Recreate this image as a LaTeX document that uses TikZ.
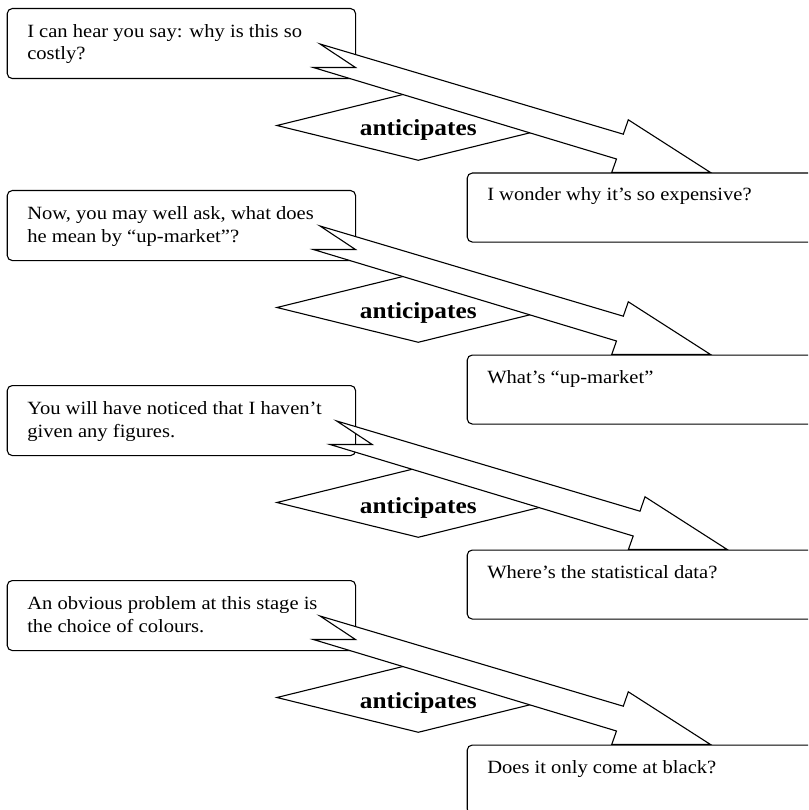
\documentclass[tikz,border=0pt]{standalone}
\usepackage{fontspec}
\setmainfont{Liberation Serif}[FakeStretch=1.1]
\usetikzlibrary{shapes.geometric}
\tikzset{
  lbox/.style={draw, fill=white, rounded corners=5pt, minimum width=348.3pt, minimum height=70pt, inner sep=0pt, anchor=north west},
  rbox/.style={draw, fill=white, rounded corners=5pt, minimum width=420pt, minimum height=69pt, inner sep=0pt, anchor=north west},
  dia/.style={draw, fill=white, diamond, aspect=4, minimum width=283.2pt, minimum height=70pt, inner sep=0pt},
  txt/.style={inner sep=0pt, font=\fontsize{18.7pt}{22pt}\selectfont, anchor=base west},
  btxt/.style={inner sep=0pt, font=\fontsize{23pt}{26pt}\selectfont\bfseries, anchor=base},
  barrow/.style={draw, fill=white, line join=miter}
}
\newcommand{\grp}[6]{%
\begin{scope}[yshift=-#1pt]
  \node[lbox] (L#3) at (6.7,8) {};
  \node[txt] (La#3) at (26.7,37.7) {#4};
  \node[txt] (Lb#3) at (26.7,60) {#5};
  \node[dia] (D#3) at (418.3,125.5) {};
  \node[btxt] (Dt#3) at (418.3,136) {anticipates};
  \begin{scope}[xshift=#2pt]
    \coordinate (A#3) at (320,44);
    \coordinate (B#3) at (355.5,67.5);
    \coordinate (C#3) at (313.3,67.5);
    \coordinate (E#3) at (616.5,159);
    \coordinate (F#3) at (611.7,172.5);
    \coordinate (T#3) at (710.5,172.5);
    \coordinate (G#3) at (628.3,119.8);
    \coordinate (H#3) at (623.3,134.2);
    \path[barrow] (A#3) -- (B#3) -- (C#3) -- (E#3) -- (F#3) -- (T#3) -- (G#3) -- (H#3) -- cycle;
  \end{scope}
  \node[rbox] (R#3) at (466.7,172.5) {};
  \node[txt] (Rt#3) at (486.7,201) {#6};
\end{scope}}
\begin{document}
\begin{tikzpicture}[x=1pt, y=-1pt, line width=1.1pt]
  \clip (0,0) rectangle (808,810);
  \fill[white] (0,0) rectangle (808,810);
  \grp{0}{0}{1}{I can hear you say: why is this so}{costly?}{I wonder why it’s so expensive?}
  \grp{182}{0}{2}{Now, you may well ask, what does}{he mean by “up-market”?}{What’s “up-market”}
  \grp{377}{16.7}{3}{You will have noticed that I haven’t}{given any figures.}{Where’s the statistical data?}
  \grp{572}{0}{4}{An obvious problem at this stage is}{the choice of colours.}{Does it only come at black?}
\end{tikzpicture}
\end{document}
